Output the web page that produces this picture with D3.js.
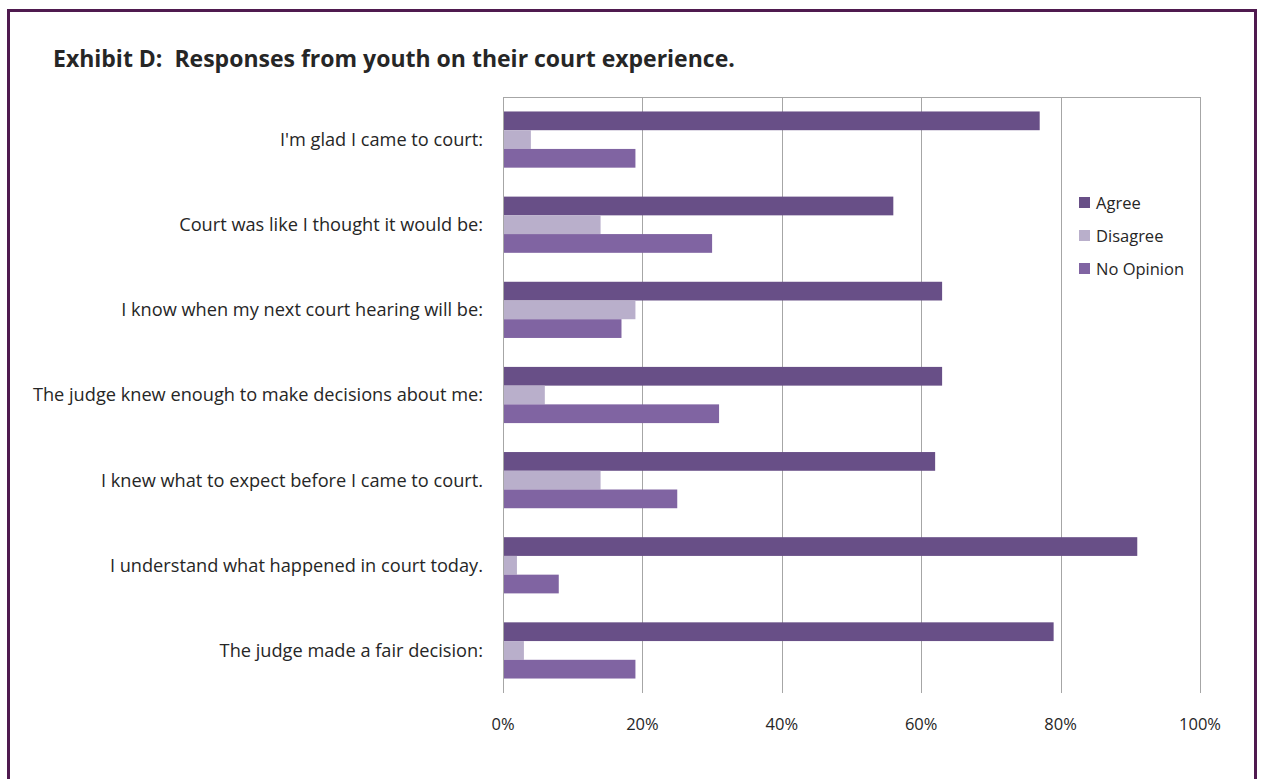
<!DOCTYPE html>
<html>
<head>
<meta charset="utf-8">
<script src="https://cdn.jsdelivr.net/npm/d3@7"></script>
<style>
  body { margin: 0; background: #fff; }
  svg text { font-family: "Open Sans", Lato, sans-serif; fill: #262626; }
</style>
</head>
<body>
<svg id="chart" width="1261" height="779"></svg>
<script>
// categories, top to bottom
const questions = [
  "I'm glad I came to court:",
  "Court was like I thought it would be:",
  "I know when my next court hearing will be:",
  "The judge knew enough to make decisions about me:",
  "I knew what to expect before I came to court.",
  "I understand what happened in court today.",
  "The judge made a fair decision:"
];
const seriesNames = ["Agree", "Disagree", "No Opinion"];
const agree     = [77, 56, 63, 63, 62, 91, 79];
const disagree  = [4, 14, 19, 6, 14, 2, 3];
const noOpinion = [19, 30, 17, 31, 25, 8, 19];
const xTicks = [0, 20, 40, 60, 80, 100];

const colors = ["#684f87", "#b9afcb", "#8064a2"];
const seriesValues = [agree, disagree, noOpinion];

// layout
let margin = {top: 97, left: 503, right: 61, bottom: 86},
    W = 1261, H = 779,
    width = W - margin.left - margin.right,
    height = H - margin.top - margin.bottom;

let svg = d3.select("#chart");

// outer frame
svg.append("path")
   .attr("d", "M8.5,790 V10.5 H1255.5 V790")
   .attr("fill", "none")
   .attr("stroke", "#4f1a4f")
   .attr("stroke-width", 3);

// title
svg.append("text")
   .attr("x", 53)
   .attr("y", 67)
   .attr("font-size", "23px")
   .attr("font-weight", "bold")
   .style("white-space", "pre")
   .text("Exhibit D:  Responses from youth on their court experience.");

let g = svg.append("g")
           .attr("transform", "translate(" + margin.left + "," + margin.top + ")");

let x = d3.scaleLinear().domain([0, 100]).range([0, width]);
let y = d3.scaleBand().domain(questions).range([0, height])
          .paddingInner(0.34).paddingOuter(0.17);
let ySub = d3.scaleBand().domain(seriesNames).range([0, y.bandwidth()]);

// plot frame top + gridlines
g.append("line")
 .attr("x1", 0).attr("x2", width).attr("y1", 0.5).attr("y2", 0.5)
 .attr("stroke", "#a6a6a6");
g.selectAll(".grid")
 .data(xTicks)
 .join("line")
 .attr("class", "grid")
 .attr("x1", d => Math.round(x(d)) + 0.5)
 .attr("x2", d => Math.round(x(d)) + 0.5)
 .attr("y1", 0)
 .attr("y2", height)
 .attr("stroke", "#a6a6a6");

// bars
seriesNames.forEach((s, si) => {
  g.append("g")
   .selectAll("rect")
   .data(questions.map((q, i) => ({q: q, v: seriesValues[si][i]})))
   .join("rect")
   .attr("x", 1)
   .attr("y", d => y(d.q) + ySub(s))
   .attr("width", d => x(d.v) - 1)
   .attr("height", ySub.bandwidth())
   .attr("fill", colors[si]);
});

// category labels
g.selectAll(".cat")
 .data(questions)
 .join("text")
 .attr("class", "cat")
 .attr("x", -20)
 .attr("y", d => y(d) + y.bandwidth() / 2)
 .attr("dy", "0.35em")
 .attr("text-anchor", "end")
 .attr("font-size", "18.2px")
 .text(d => d);

// x tick labels
g.selectAll(".tick")
 .data(xTicks)
 .join("text")
 .attr("class", "tick")
 .attr("x", d => x(d))
 .attr("y", height + 37)
 .attr("text-anchor", "middle")
 .attr("font-size", "16.5px")
 .text(d => d + "%");

// legend
let legend = svg.append("g").attr("transform", "translate(1079,197)");
seriesNames.forEach((s, i) => {
  let row = legend.append("g").attr("transform", "translate(0," + (i * 33) + ")");
  row.append("rect").attr("width", 11).attr("height", 11).attr("fill", colors[i]);
  row.append("text")
     .attr("x", 17)
     .attr("y", 6)
     .attr("dy", "0.35em")
     .attr("font-size", "16.5px")
     .text(s);
});
</script>
</body>
</html>
